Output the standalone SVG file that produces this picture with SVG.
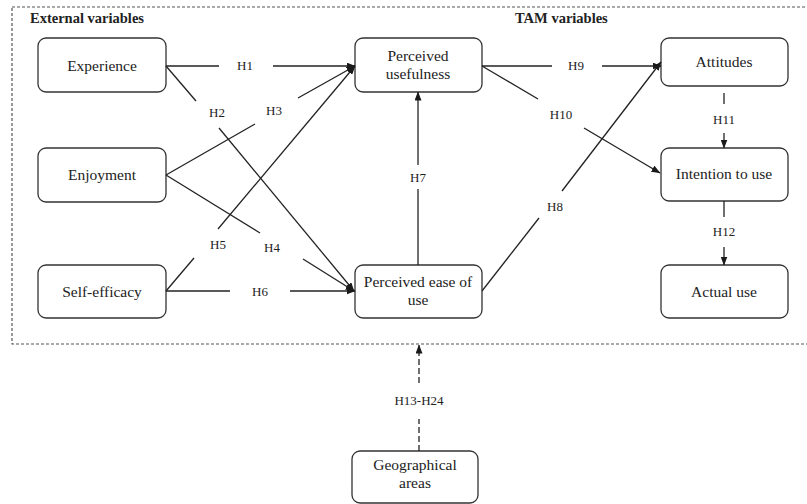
<svg xmlns="http://www.w3.org/2000/svg" width="807" height="504" viewBox="0 0 807 504">
<defs>
<marker id="ah" markerUnits="userSpaceOnUse" markerWidth="9" markerHeight="7" refX="8.5" refY="3.5" orient="auto">
<path d="M0,0 L9,3.5 L0,7 z" fill="#1a1a1a"/>
</marker>
<style>
text{font-family:'Liberation Serif','DejaVu Serif','Noto Serif',serif;fill:#222}
.box{fill:#fff;stroke:#333;stroke-width:1.3}
.nt{font-size:15.5px;text-anchor:middle}
.hd{font-size:14.5px;font-weight:bold}
.lb{font-size:13px;text-anchor:middle}
.c line{stroke:#222;stroke-width:1.3}
.frame{fill:none;stroke:#555;stroke-width:1.2;stroke-dasharray:3,2}
</style>
</defs>
<rect width="807" height="504" fill="#fff"/>
<rect class="frame" x="12" y="7" width="800" height="337"/>
<text class="hd" x="30" y="23">External variables</text>
<text class="hd" x="515" y="23">TAM variables</text>

<g id="experience"><rect class="box" x="38" y="38" width="128" height="54" rx="8"/><text class="nt" x="102" y="71">Experience</text></g>
<g id="enjoyment"><rect class="box" x="38" y="148" width="128" height="54" rx="8"/><text class="nt" x="102" y="180">Enjoyment</text></g>
<g id="self-efficacy"><rect class="box" x="38" y="265" width="128" height="53" rx="8"/><text class="nt" x="102" y="297">Self-efficacy</text></g>
<g id="perceived-usefulness"><rect class="box" x="355" y="38" width="127" height="54" rx="8"/><text class="nt" x="418" y="61">Perceived</text><text class="nt" x="418" y="79">usefulness</text></g>
<g id="perceived-ease"><rect class="box" x="355" y="265" width="127" height="53" rx="8"/><text class="nt" x="418" y="287">Perceived ease of</text><text class="nt" x="418" y="305">use</text></g>
<g id="attitudes"><rect class="box" x="661" y="38" width="127" height="48" rx="8"/><text class="nt" x="724" y="67">Attitudes</text></g>
<g id="intention"><rect class="box" x="661" y="148" width="127" height="53" rx="8"/><text class="nt" x="724" y="179">Intention to use</text></g>
<g id="actual-use"><rect class="box" x="661" y="265" width="127" height="53" rx="8"/><text class="nt" x="724" y="297">Actual use</text></g>
<g id="geographical"><rect class="box" x="352" y="451" width="126" height="52" rx="8"/><text class="nt" x="415" y="470">Geographical</text><text class="nt" x="415" y="488">areas</text></g>

<g id="connectors" class="c">
<line x1="166" y1="66" x2="219" y2="66"/><line x1="273" y1="66" x2="355" y2="66" marker-end="url(#ah)"/>
<line x1="166" y1="66" x2="196" y2="101"/><line x1="219" y1="128" x2="354" y2="291" marker-end="url(#ah)"/>
<line x1="166" y1="175" x2="255" y2="124"/><line x1="298" y1="98" x2="355" y2="66" marker-end="url(#ah)"/>
<line x1="166" y1="175" x2="260" y2="233"/><line x1="303" y1="259" x2="354" y2="291" marker-end="url(#ah)"/>
<line x1="166" y1="291" x2="194" y2="258"/><line x1="218" y1="229" x2="355" y2="66" marker-end="url(#ah)"/>
<line x1="166" y1="291" x2="230" y2="291"/><line x1="290" y1="291" x2="355" y2="291" marker-end="url(#ah)"/>
<line x1="418" y1="265" x2="418" y2="189"/><line x1="418" y1="165" x2="418" y2="92" marker-end="url(#ah)"/>
<line x1="482" y1="291" x2="539" y2="218"/><line x1="562" y1="191" x2="661" y2="62" marker-end="url(#ah)"/>
<line x1="482" y1="66" x2="552" y2="66"/><line x1="602" y1="66" x2="661" y2="66" marker-end="url(#ah)"/>
<line x1="482" y1="66" x2="538" y2="99"/><line x1="584" y1="128" x2="660" y2="173" marker-end="url(#ah)"/>
<line x1="724" y1="93" x2="724" y2="104"/><line x1="724" y1="133" x2="724" y2="148" marker-end="url(#ah)"/>
<line x1="724" y1="201" x2="724" y2="217"/><line x1="724" y1="247" x2="724" y2="265" marker-end="url(#ah)"/>
<line x1="419" y1="451" x2="419" y2="419" stroke-dasharray="6,3"/><line x1="419" y1="383" x2="419" y2="345" stroke-dasharray="6,3" marker-end="url(#ah)"/>
<text class="lb" x="245" y="70">H1</text>
<text class="lb" x="217" y="117">H2</text>
<text class="lb" x="274" y="115">H3</text>
<text class="lb" x="272" y="252">H4</text>
<text class="lb" x="218" y="249">H5</text>
<text class="lb" x="260" y="296">H6</text>
<text class="lb" x="418" y="182">H7</text>
<text class="lb" x="555" y="211">H8</text>
<text class="lb" x="576" y="70">H9</text>
<text class="lb" x="561" y="119">H10</text>
<text class="lb" x="724" y="124">H11</text>
<text class="lb" x="724" y="236">H12</text>
<text class="lb" x="419" y="405">H13-H24</text>
</g>
</svg>
